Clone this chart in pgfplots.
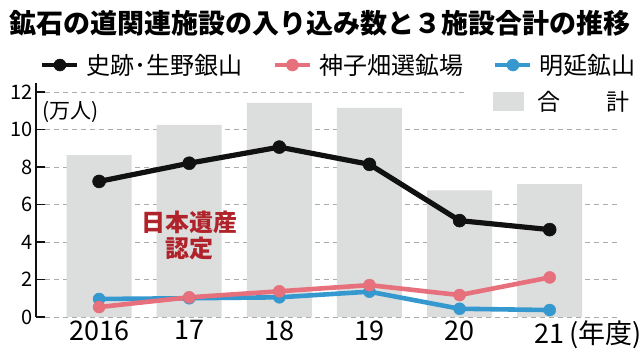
\documentclass[border=0pt]{standalone}
\usepackage{fontspec}
\setmainfont{Noto Sans CJK JP}
\usepackage{pgfplots}
\pgfplotsset{compat=1.18}
\definecolor{cblack}{HTML}{111111}
\definecolor{cpink}{HTML}{E6717C}
\definecolor{cblue}{HTML}{3598CF}
\definecolor{cbar}{HTML}{DCDDDD}
\definecolor{cgrid}{HTML}{ABABAB}
\definecolor{cred}{HTML}{B0232B}
\pgfplotsset{
  common/.style={
    scale only axis, width=584pt, height=234.4pt,
    at={(36pt,33pt)}, anchor=south west,
    xmin=-0.7, xmax=5.78, ymin=0, ymax=12.5,
    xtick={0,...,5}, ytick={0,2,...,12},
  }
}
\begin{document}
\begin{tikzpicture}
\path[use as bounding box] (0,0) rectangle (640pt,350pt);
\fill[white] (0,0) rectangle (640pt,350pt);
\node[font=\fontsize{27}{30}\selectfont\bfseries] at (320pt,327pt) {鉱石の道関連施設の入り込み数と３施設合計の推移};

\begin{axis}[common,
  axis line style={draw=none}, tick style={draw=none},
  xticklabels={}, yticklabels={},
  ymajorgrids, grid style={cgrid, line width=0.7pt, dash pattern=on 5pt off 4pt},
  legend style={at={(axis description cs:0.7825,0.919)}, anchor=west, draw=none, fill=none,
    inner sep=0pt, nodes={inner sep=0pt}, column sep=13pt,
    font=\fontsize{23}{26}\selectfont},
]
\addplot[ybar, bar width=65pt, fill=cbar, draw=none,
  legend image code/.code={\fill[cbar] (0pt,-9.5pt) rectangle (31pt,9.5pt);}]
  coordinates {(0,8.63) (1,10.25) (2,11.42) (3,11.15) (4,6.75) (5,7.09)};
\addlegendentry{合\hspace{2em}計}
\fill[white] (axis cs:4.05,11.6) rectangle (axis cs:5.9,12.4);
\end{axis}

\begin{axis}[common,
  axis y line*=left, axis x line*=bottom,
  x axis line style={draw=none},
  y axis line style={cblack, line width=1.2pt},
  xtick style={draw=none},
  ytick style={cblack, line width=1.2pt},
  tick align=inside, major tick length=9pt,
  xticklabels={2016,17,18,19,20,{21\rlap{\,(年度)}}},
  xticklabel style={font=\fontsize{27}{30}\selectfont},
  yticklabel style={font=\fontsize{20}{24}\selectfont},
  /pgf/number format/assume math mode=true,
  clip=false,
  legend columns=3,
  legend image code/.code={\draw[mark repeat=2,mark phase=2,#1] plot coordinates {(0pt,0pt) (17.5pt,0pt) (35pt,0pt)};},
  legend style={at={(axis description cs:0.00685,1.075)}, anchor=west, draw=none, fill=none,
    inner sep=0pt, nodes={inner sep=0pt}, column sep=7pt,
    /tikz/every even column/.append style={column sep=30pt},
    font=\fontsize{24}{26}\selectfont},
]
\addplot[cblack, line width=5.2pt, mark=*, mark size=6.5pt, mark options={line width=0.5pt}, forget plot]
  coordinates {(0,7.23) (1,8.2) (2,9.06) (3,8.14) (4,5.14) (5,4.66)};
\addplot[cblue, line width=4.6pt, mark=*, mark size=6pt, mark options={line width=0.5pt}, forget plot]
  coordinates {(0,0.96) (1,1.0) (2,1.05) (3,1.35) (4,0.44) (5,0.37)};
\addplot[cpink, line width=4.6pt, mark=*, mark size=6pt, mark options={line width=0.5pt}, forget plot]
  coordinates {(0,0.53) (1,1.05) (2,1.37) (3,1.70) (4,1.17) (5,2.11)};
\addlegendimage{cblack, line width=4.5pt, mark=*, mark size=6pt, mark options={line width=0.5pt}}
\addlegendentry{史跡･生野銀山}
\addlegendimage{cpink, line width=4.5pt, mark=*, mark size=6pt, mark options={line width=0.5pt}}
\addlegendentry{神子畑選鉱場}
\addlegendimage{cblue, line width=4.5pt, mark=*, mark size=6pt, mark options={line width=0.5pt}}
\addlegendentry{明延鉱山}
\node[anchor=west, inner sep=0pt, font=\fontsize{21}{24}\selectfont] at (axis cs:-0.63,10.93) {(万人)};
\node[font=\fontsize{24}{26}\selectfont\bfseries, text=cred, align=center] at (axis cs:1,4.37) {日本遺産\\認定};
\end{axis}
\end{tikzpicture}
\end{document}
